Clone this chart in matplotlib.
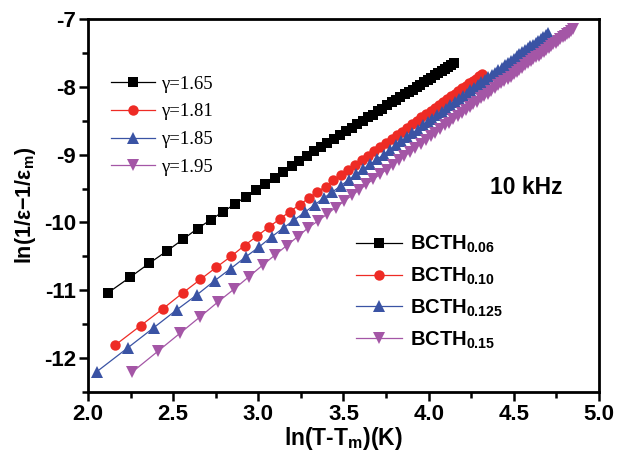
import numpy as np
import matplotlib
matplotlib.use("Agg")
import matplotlib.pyplot as plt
from matplotlib.ticker import MultipleLocator, FormatStrFormatter, FuncFormatter

plt.rcParams['font.family'] = ['Liberation Sans', 'DejaVu Sans']
plt.rcParams['mathtext.fontset'] = 'custom'
plt.rcParams['mathtext.bf'] = 'Liberation Sans:bold'
plt.rcParams['mathtext.rm'] = 'Liberation Sans:bold'
plt.rcParams['mathtext.default'] = 'bf'

# ---- data: x = ln(T - Tm), y = ln(1/eps - 1/eps_m) ----
x_006 = [2.116, 2.246, 2.361, 2.464, 2.557, 2.643, 2.721, 2.794, 2.862, 2.926,
         2.986, 3.042, 3.096, 3.146, 3.195, 3.241, 3.285, 3.327, 3.367, 3.406,
         3.444, 3.480, 3.515, 3.548, 3.581, 3.612, 3.643, 3.672, 3.701, 3.729,
         3.757, 3.783, 3.809, 3.834, 3.859, 3.883, 3.906, 3.929, 3.951, 3.973,
         3.995, 4.016, 4.036, 4.056, 4.076, 4.095, 4.114, 4.133, 4.151]
y_006 = [-11.04, -10.81, -10.60, -10.42, -10.25, -10.09, -9.96, -9.84, -9.73, -9.62,
         -9.52, -9.43, -9.34, -9.25, -9.17, -9.10, -9.02, -8.95, -8.89, -8.83,
         -8.77, -8.71, -8.65, -8.60, -8.55, -8.50, -8.45, -8.41, -8.36, -8.32,
         -8.27, -8.23, -8.19, -8.15, -8.11, -8.07, -8.04, -8.00, -7.97, -7.93,
         -7.90, -7.87, -7.83, -7.80, -7.77, -7.74, -7.71, -7.68, -7.65]

x_010 = [2.159, 2.310, 2.441, 2.556, 2.660, 2.754, 2.840, 2.919, 2.993, 3.061,
         3.125, 3.185, 3.242, 3.296, 3.346, 3.395, 3.441, 3.485, 3.527, 3.568,
         3.607, 3.645, 3.681, 3.716, 3.750, 3.782, 3.814, 3.844, 3.874, 3.903,
         3.931, 3.958, 3.985, 4.011, 4.036, 4.061, 4.085, 4.108, 4.131, 4.153,
         4.175, 4.197, 4.218, 4.238, 4.258, 4.278, 4.298, 4.316]
y_010 = [-11.81, -11.52, -11.27, -11.04, -10.84, -10.66, -10.50, -10.34, -10.20, -10.07,
         -9.95, -9.84, -9.74, -9.64, -9.55, -9.47, -9.38, -9.30, -9.23, -9.16,
         -9.08, -9.02, -8.95, -8.89, -8.83, -8.77, -8.71, -8.66, -8.60, -8.55,
         -8.50, -8.45, -8.40, -8.36, -8.31, -8.27, -8.22, -8.18, -8.14, -8.10,
         -8.06, -8.02, -7.99, -7.95, -7.91, -7.88, -7.84, -7.81]

x_0125 = [2.052, 2.233, 2.387, 2.520, 2.638, 2.743, 2.838, 2.925, 3.005, 3.079,
          3.148, 3.212, 3.273, 3.330, 3.384, 3.435, 3.484, 3.530, 3.575, 3.617,
          3.658, 3.697, 3.735, 3.771, 3.806, 3.840, 3.873, 3.905, 3.935, 3.965,
          3.994, 4.022, 4.050, 4.076, 4.102, 4.128, 4.152, 4.176, 4.200, 4.223,
          4.245, 4.267, 4.289, 4.310, 4.330, 4.351, 4.370, 4.390, 4.409, 4.428,
          4.446, 4.464, 4.482, 4.499, 4.516, 4.533, 4.549, 4.566, 4.582, 4.597,
          4.613, 4.628, 4.643, 4.658, 4.673, 4.687, 4.701]
y_0125 = [-12.20, -11.85, -11.55, -11.29, -11.07, -10.86, -10.68, -10.51, -10.36, -10.21,
          -10.08, -9.96, -9.85, -9.74, -9.64, -9.55, -9.46, -9.37, -9.29, -9.21,
          -9.14, -9.07, -9.00, -8.93, -8.86, -8.80, -8.74, -8.68, -8.63, -8.57,
          -8.52, -8.47, -8.41, -8.37, -8.32, -8.27, -8.23, -8.18, -8.14, -8.10,
          -8.05, -8.01, -7.97, -7.93, -7.90, -7.86, -7.82, -7.79, -7.75, -7.72,
          -7.68, -7.65, -7.62, -7.59, -7.55, -7.52, -7.49, -7.46, -7.43, -7.40,
          -7.38, -7.35, -7.32, -7.29, -7.27, -7.24, -7.21]

x_015 = [2.258, 2.410, 2.542, 2.659, 2.764, 2.859, 2.945, 3.025, 3.098, 3.167,
         3.231, 3.292, 3.349, 3.402, 3.454, 3.502, 3.549, 3.593, 3.635, 3.676,
         3.715, 3.753, 3.789, 3.824, 3.858, 3.891, 3.922, 3.953, 3.983, 4.012,
         4.040, 4.067, 4.094, 4.120, 4.145, 4.170, 4.194, 4.217, 4.240, 4.263,
         4.284, 4.306, 4.327, 4.348, 4.368, 4.388, 4.407, 4.426, 4.445, 4.463,
         4.481, 4.499, 4.516, 4.533, 4.550, 4.566, 4.583, 4.599, 4.614, 4.630,
         4.645, 4.660, 4.675, 4.689, 4.704, 4.718, 4.732, 4.746, 4.759, 4.773,
         4.786, 4.799, 4.812, 4.825, 4.837, 4.850]
y_015 = [-12.21, -11.90, -11.63, -11.39, -11.17, -10.98, -10.80, -10.63, -10.48, -10.34,
         -10.21, -10.08, -9.98, -9.88, -9.78, -9.69, -9.60, -9.52, -9.44, -9.36,
         -9.29, -9.22, -9.15, -9.08, -9.02, -8.96, -8.90, -8.84, -8.78, -8.73,
         -8.68, -8.62, -8.57, -8.53, -8.48, -8.43, -8.39, -8.34, -8.30, -8.26,
         -8.22, -8.17, -8.14, -8.10, -8.06, -8.02, -7.98, -7.95, -7.91, -7.88,
         -7.85, -7.81, -7.78, -7.75, -7.72, -7.68, -7.65, -7.62, -7.59, -7.56,
         -7.54, -7.51, -7.48, -7.45, -7.43, -7.40, -7.37, -7.35, -7.32, -7.30,
         -7.27, -7.25, -7.22, -7.20, -7.17, -7.15]

gamma_labels = ["\u03b3=1.65", "\u03b3=1.81", "\u03b3=1.85", "\u03b3=1.95"]
sample_labels = [r"BCTH$_{0.06}$", r"BCTH$_{0.10}$", r"BCTH$_{0.125}$", r"BCTH$_{0.15}$"]
colors = ["#000000", "#ee2b25", "#3a53a4", "#a456a6"]
markers = ["s", "o", "^", "v"]
msizes = [7, 7.5, 8, 8]
xs = [x_006, x_010, x_0125, x_015]
ys = [y_006, y_010, y_0125, y_015]

fig = plt.figure(figsize=(6.17, 4.55), dpi=100)
ax = fig.add_axes([0.1426, 0.1385, 0.8282, 0.8197])

handles = []
for x, y, c, m, ms in zip(xs, ys, colors, markers, msizes):
    h, = ax.plot(x, y, color=c, marker=m, markersize=ms, linewidth=0.9,
                 markeredgewidth=0)
    handles.append(h)

ax.set_xlim(2.0, 5.0)
ax.set_ylim(-12.5, -7.0)
ax.xaxis.set_major_locator(MultipleLocator(0.5))
ax.xaxis.set_minor_locator(MultipleLocator(0.25))
ax.yaxis.set_major_locator(MultipleLocator(1))
ax.yaxis.set_minor_locator(MultipleLocator(0.5))
ax.xaxis.set_major_formatter(FormatStrFormatter('%.1f'))
ax.yaxis.set_major_formatter(FuncFormatter(lambda v, p: '%d' % v))
ax.tick_params(which='major', direction='out', length=6.5, width=1.8,
               labelsize=16, top=False, right=False, pad=2)
ax.tick_params(which='minor', direction='out', length=4, width=1.8,
               top=False, right=False)
for lab in ax.get_xticklabels() + ax.get_yticklabels():
    lab.set_fontweight('bold')
for s in ax.spines.values():
    s.set_linewidth(2.0)

ax.set_xlabel(r"ln(T-T$_{m}$)(K)", fontsize=16.5, fontweight='bold', labelpad=0)
ax.set_ylabel("ln(1/\u03b5\u22121/\u03b5$_{m}$)", fontsize=15.5, fontweight='bold', labelpad=4)

leg1 = ax.legend(handles, gamma_labels, loc='upper left', bbox_to_anchor=(0.0224, 0.879),
                 frameon=False, prop={'family': 'Liberation Serif', 'size': 13.5},
                 handlelength=2.36, handletextpad=0.32, labelspacing=0.57,
                 borderaxespad=0.2)
ax.add_artist(leg1)
leg2 = ax.legend(handles, sample_labels, loc='upper left', bbox_to_anchor=(0.5008, 0.456),
                 frameon=False, prop={'weight': 'bold', 'size': 14.5},
                 handlelength=2.29, handletextpad=0.4, labelspacing=0.52,
                 borderaxespad=0.2)

ax.text(0.787, 0.547, "10 kHz", transform=ax.transAxes, fontsize=16.5,
        fontweight='bold', ha='left', va='center')

fig.savefig("out.png", dpi=100)
